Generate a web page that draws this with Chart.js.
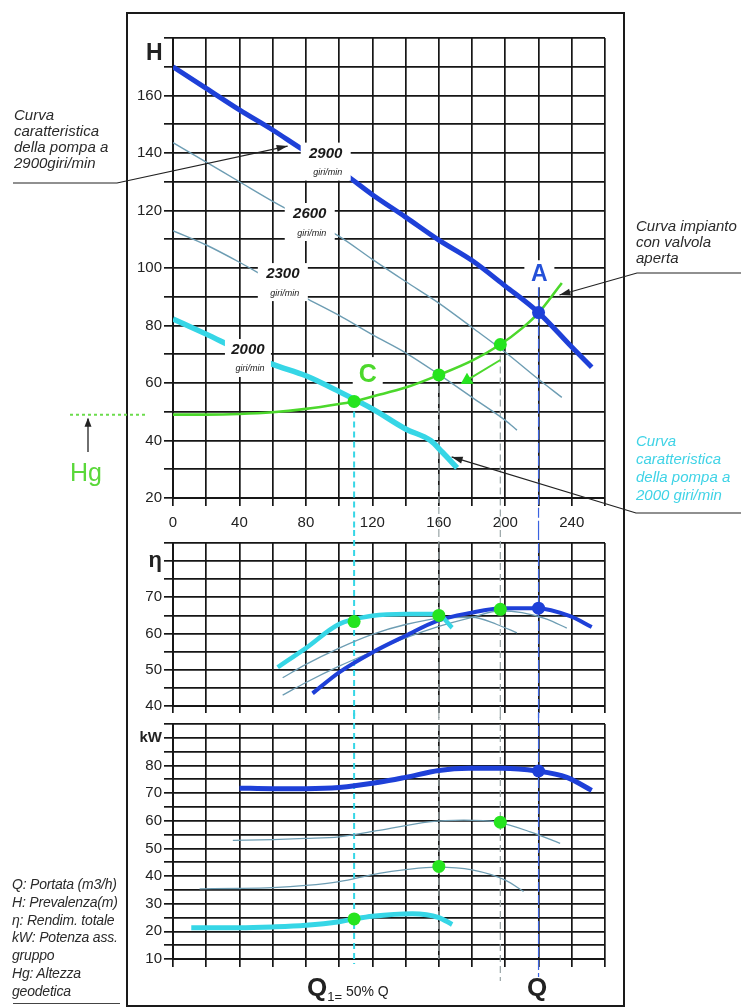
<!DOCTYPE html>
<html lang="it">
<head>
<meta charset="utf-8">
<title>Curve caratteristiche pompa</title>
<script src="https://cdn.jsdelivr.net/npm/chart.js@4.4.1/dist/chart.umd.min.js"></script>
<style>
  html, body { margin: 0; padding: 0; background: #fff; }
  body { width: 741px; height: 1007px; position: relative; overflow: hidden;
         font-family: "Liberation Sans", Arial, sans-serif; color: #222; }
  canvas { position: absolute; left: 0; }
  #frame { position: absolute; left: 126px; top: 12px; width: 495px; height: 991px;
           border: 2px solid #1a1a1a; }
  .note { position: absolute; font-style: italic; font-size: 15px; line-height: 16px;
          color: #2a2a2a; letter-spacing: 0px; white-space: nowrap; }
  .cyan { color: #3fd3e6; line-height: 18px; }
  .legend { font-size: 14px; letter-spacing: -0.2px; line-height: 17.8px; }
  #hlabel { position: absolute; left: 146px; top: 40px; font-weight: bold; font-size: 23px; line-height: 24px; }
  #hg { position: absolute; left: 70px; top: 458px; font-size: 25px; line-height: 28px; color: #5ad83a; }
  .qlab { position: absolute; top: 975px; line-height: 25px; white-space: nowrap; }
  .qbig { font-weight: bold; font-size: 26px; }
  .qsub { font-size: 13px; position: relative; top: 5px; }
  .qsmall { font-size: 14px; }
  #legline { position: absolute; left: 13px; top: 1003px; width: 107px; border-top: 1px solid #444; }
</style>
</head>
<body>
<div id="frame"></div>
<canvas id="chartH" width="741" height="530" style="top:0"></canvas>
<canvas id="chartEta" width="741" height="188" style="top:530px"></canvas>
<canvas id="chartKW" width="741" height="294" style="top:713px"></canvas>

<div id="hlabel">H</div>
<div class="note" style="left:14px;top:107px">Curva<br>caratteristica<br>della pompa a<br>2900giri/min</div>
<div class="note" style="left:636px;top:218px">Curva impianto<br>con valvola<br>aperta</div>
<div class="note cyan" style="left:636px;top:432px">Curva<br>caratteristica<br>della pompa a<br>2000 giri/min</div>
<div class="note legend" style="left:12px;top:876px">Q: Portata (m3/h)<br>H: Prevalenza(m)<br>η: Rendim. totale<br>kW: Potenza ass.<br>gruppo<br>Hg: Altezza<br>geodetica</div>
<div id="legline"></div>
<div id="hg">Hg</div>
<div class="qlab" style="left:307px"><span class="qbig">Q</span><span class="qsub">1=</span><span class="qsmall"> 50% Q</span></div>
<div class="qlab" style="left:527px"><span class="qbig">Q</span></div>

<script>
// ---- Portata Q (m3/h) e prevalenza H (m) per ciascun numero di giri ----
const qH2900 = [0, 20, 40, 60, 80, 100, 120, 140, 160, 180, 200, 220, 240, 252];
const hH2900 = [170, 162.5, 155, 148, 140.5, 134, 125.5, 117.7, 109.7, 102.6, 93.7, 84.5, 72.5, 65.5];
const qH2600 = [0, 20, 40, 60, 80, 100, 120, 140, 160, 180, 200, 220, 234];
const hH2600 = [143.6, 136.8, 130, 123.2, 117, 111, 103, 95.3, 87.8, 79.3, 70.7, 61.3, 55];
const qH2300 = [0, 20, 40, 60, 80, 100, 120, 140, 160, 180, 200, 207];
const hH2300 = [113, 108, 102, 95.5, 89.5, 83.5, 76.8, 70.5, 63, 55, 47, 43.6];
const qH2000 = [0, 20, 40, 60, 80, 100, 120, 140, 155, 162, 171];
const hH2000 = [82.3, 77, 71.5, 66.5, 62.5, 57, 51, 44, 40, 36, 30.5];

// ---- Curva impianto (valvola aperta) ----
const qSys = [0, 20, 40, 60, 80, 100, 109, 120, 140, 160, 180, 197, 210, 220, 234];
const hSys = [49, 49, 49.2, 49.8, 51, 52.7, 53.6, 55.3, 58.4, 62.8, 67.8, 73.4, 79, 84.4, 94.8];
const qSysShift = [197, 177];
const hSysShift = [68, 61];

// ---- Rendimento totale (%) ----
const qE2900 = [84, 100, 120, 140, 159, 179, 198, 219, 239, 252];
const eE2900 = [43.5, 49.3, 54.8, 59.4, 63.5, 65.7, 67, 67, 64.8, 61.8];
const qE2600 = [66, 80, 100, 120, 140, 160, 180, 197, 210, 225, 237];
const eE2600 = [43, 46.5, 51, 55, 58.8, 62, 64.5, 66.3, 65.8, 64, 61.5];
const qE2300 = [66, 80, 100, 120, 140, 160, 180, 195, 207];
const eE2300 = [47.8, 51.5, 56, 59.8, 62.5, 64.2, 64.5, 62.5, 60.2];
const qE2000 = [63, 80, 100, 120, 140, 159, 168];
const eE2000 = [50.7, 56, 62.6, 64.9, 65.4, 65.4, 61.6];

// ---- Potenza assorbita dal gruppo (kW) ----
const qK2900 = [40, 60, 80, 100, 124, 140, 160, 178, 198, 219, 237, 252];
const kK2900 = [71.8, 71.6, 71.6, 72, 73.9, 75.7, 78.2, 79, 79, 78, 75.7, 71];
const qK2600 = [36, 60, 80, 100, 124, 154, 175, 195, 215, 233];
const kK2600 = [52.9, 53.2, 53.6, 54.2, 56.5, 59.6, 60.2, 59.5, 56, 51.8];
const qK2300 = [16, 40, 60, 80, 100, 124, 140, 159, 180, 200, 211];
const kK2300 = [35.4, 35.5, 35.8, 36.6, 38, 41, 42.3, 43.2, 42.2, 38.5, 34.4];
const qK2000 = [11, 40, 60, 80, 100, 109, 120, 144, 160, 168];
const kK2000 = [21.3, 21.3, 21.6, 22.2, 23.5, 24.5, 25.5, 26.4, 25, 22.5];

// ---- Punti di funzionamento (C, 2300, 2600, A) ----
const opQ = [109, 160, 197, 220];
const opH = [53.6, 62.8, 73.4, 84.5];
const opEta = [63.3, 65, 66.7, 67];
const opKW = [24.5, 43.5, 59.5, 78];

// ---- Etichette degli assi ----
const qTickLabels = [0, 40, 80, 120, 160, 200, 240];
const hTickLabels = [20, 40, 60, 80, 100, 120, 140, 160];
const etaTickLabels = [40, 50, 60, 70];
const kwTickLabels = [10, 20, 30, 40, 50, 60, 70, 80];

// ---- Colori ----
const BLUE = '#1e40d8';
const CYAN = '#36d6e6';
const GREEN = '#4cd82c';
const GREEN_DOT = '#26e41f';
const THIN = '#6d9db3';
const GRID = '#161616';
const FONT = '"Liberation Sans", Arial, sans-serif';

const pts = (qs, vs) => qs.map((q, i) => ({ x: q, y: vs[i] }));

function curve(qs, vs, color, width) {
  return { data: pts(qs, vs), borderColor: color, borderWidth: width, pointRadius: 0,
           cubicInterpolationMode: 'monotone', fill: false, borderCapStyle: 'butt' };
}
function opDots(vs, radius) {
  return { data: pts(opQ, vs), showLine: false, pointRadius: radius, pointHoverRadius: radius,
           pointBorderWidth: 0,
           pointBackgroundColor: opQ.map((_, i) => i === opQ.length - 1 ? BLUE : GREEN_DOT) };
}

// linee verticali di riferimento alle portate dei punti di funzionamento
const guideStyle = [
  { color: CYAN, width: 2, dash: [6, 4], ext: 5 },
  { color: '#98a4a6', width: 1.2, dash: [7, 4], ext: 0 },
  { color: '#98a4a6', width: 1.2, dash: [7, 4], ext: 22 },
  { color: '#3a62e0', width: 1.2, dash: [10, 3], ext: 18 }
];
const guidePlugin = {
  id: 'guides',
  beforeDatasetsDraw(chart, args, opts) {
    const { ctx, scales: { x, y }, chartArea } = chart;
    ctx.save();
    opQ.forEach((q, i) => {
      const st = guideStyle[i];
      const px = x.getPixelForValue(q);
      const y0 = opts.from ? y.getPixelForValue(opts.from[i]) : 0;
      const y1 = opts.last ? chartArea.bottom + st.ext : chart.height;
      ctx.strokeStyle = st.color; ctx.lineWidth = st.width; ctx.setLineDash(st.dash);
      ctx.beginPath(); ctx.moveTo(px, y0); ctx.lineTo(px, y1); ctx.stroke();
    });
    ctx.restore();
  }
};

// etichette su fondo bianco (giri/min, A, C)
const tagPlugin = {
  id: 'tags',
  afterDatasetsDraw(chart, args, opts) {
    const { ctx, scales: { x, y } } = chart;
    (opts.items || []).forEach(t => {
      const cx = x.getPixelForValue(t.q), cy = y.getPixelForValue(t.v);
      ctx.save();
      ctx.fillStyle = '#fff';
      ctx.fillRect(cx - t.w / 2, cy - t.h / 2, t.w, t.h);
      ctx.fillStyle = t.color; ctx.textAlign = 'center'; ctx.textBaseline = 'middle';
      ctx.font = t.font; ctx.fillText(t.text, cx, cy + (t.dy || 0));
      if (t.sub) { ctx.font = t.subFont; ctx.fillText(t.sub, cx + 2, cy + t.subDy); }
      ctx.restore();
    });
  }
};

// richiami con freccia e quota Hg
const leaderPlugin = {
  id: 'leaders',
  afterDraw(chart, args, opts) {
    const { ctx, scales: { x, y } } = chart;
    const arrowHead = (tx, ty, ang, len, half, color) => {
      ctx.beginPath(); ctx.moveTo(tx, ty);
      ctx.lineTo(tx - len * Math.cos(ang) + half * Math.sin(ang), ty - len * Math.sin(ang) - half * Math.cos(ang));
      ctx.lineTo(tx - len * Math.cos(ang) - half * Math.sin(ang), ty - len * Math.sin(ang) + half * Math.cos(ang));
      ctx.closePath(); ctx.fillStyle = color; ctx.fill();
    };
    ctx.save();
    (opts.lines || []).forEach(l => {
      const tx = x.getPixelForValue(l.tip[0]), ty = y.getPixelForValue(l.tip[1]);
      ctx.strokeStyle = '#222'; ctx.lineWidth = 1.2;
      ctx.beginPath(); ctx.moveTo(l.path[0][0], l.path[0][1]);
      l.path.slice(1).forEach(p => ctx.lineTo(p[0], p[1]));
      ctx.lineTo(tx, ty); ctx.stroke();
      const last = l.path[l.path.length - 1];
      arrowHead(tx, ty, Math.atan2(ty - last[1], tx - last[0]), 11, 3.5, '#222');
    });
    // livello geodetico
    const yHg = y.getPixelForValue(hSys[0]);
    ctx.strokeStyle = '#6bdc4c'; ctx.lineWidth = 2; ctx.setLineDash([3, 3]);
    ctx.beginPath(); ctx.moveTo(70, yHg); ctx.lineTo(147, yHg); ctx.stroke();
    ctx.setLineDash([]);
    ctx.strokeStyle = '#222'; ctx.lineWidth = 1.3;
    ctx.beginPath(); ctx.moveTo(88, 452); ctx.lineTo(88, yHg + 4); ctx.stroke();
    arrowHead(88, yHg + 3, -Math.PI / 2, 9, 3.5, '#222');
    ctx.restore();
  }
};

function axes(yMin, yMax, yStep, yLabel, titleAt, titleText, titleFont, xHeight, xTickLen, showQLabels, xPad) {
  return {
    x: {
      type: 'linear', min: 0, max: 260,
      grid: { color: GRID, lineWidth: 1.7, tickLength: xTickLen, drawTicks: true },
      border: { color: GRID, width: 2 },
      ticks: { stepSize: 20, autoSkip: false, maxRotation: 0, padding: xPad, color: '#222',
               font: { family: FONT, size: 15 },
               callback: v => (showQLabels && qTickLabels.includes(v)) ? String(v) : '' },
      afterFit: s => { s.height = xHeight; }
    },
    y: {
      type: 'linear', min: yMin, max: yMax,
      grid: { color: GRID, lineWidth: 1.7, tickLength: 9, drawTicks: true },
      border: { color: GRID, width: 2 },
      ticks: { stepSize: yStep, autoSkip: false, padding: 2, color: '#222',
               font: ctx => (ctx.tick && ctx.tick.value === titleAt) ? titleFont : { family: FONT, size: 15 },
               callback: v => v === titleAt ? titleText : (yLabel.includes(v) ? String(v) : '') },
      afterFit: s => { s.width = 173; }
    }
  };
}

function baseOptions(scales, padTop, plugins) {
  return {
    responsive: false, animation: false, devicePixelRatio: 1,
    layout: { padding: { left: 0, right: 136, top: padTop, bottom: 0 } },
    scales,
    plugins: Object.assign({ legend: { display: false }, tooltip: { enabled: false } }, plugins)
  };
}

// ---------- Pannello H ----------
new Chart(document.getElementById('chartH'), {
  type: 'line',
  data: { datasets: [
    opDots(opH, 6.5),
    Object.assign(curve(qSysShift, hSysShift, GREEN, 2), {
      pointRadius: [0, 7.5], pointStyle: 'triangle', pointRotation: 239,
      pointBackgroundColor: GREEN_DOT, pointBorderWidth: 0 }),
    curve(qSys, hSys, GREEN, 2.6),
    curve(qH2900, hH2900, BLUE, 5),
    curve(qH2000, hH2000, CYAN, 5.5),
    curve(qH2600, hH2600, THIN, 1.4),
    curve(qH2300, hH2300, THIN, 1.4)
  ]},
  options: baseOptions(axes(20, 180, 10, hTickLabels, null, '', null, 32, 8, true, 8), 38, {
    guides: { from: [opH[0], opH[1], opH[2], 98] },
    tags: { items: [
      { q: 91.9, v: 137, w: 50, h: 38, text: '2900', font: `italic bold 15px ${FONT}`, dy: -8,
        sub: 'giri/min', subFont: `italic 9px ${FONT}`, subDy: 11, color: '#1a1a1a' },
      { q: 82.3, v: 116, w: 50, h: 38, text: '2600', font: `italic bold 15px ${FONT}`, dy: -8,
        sub: 'giri/min', subFont: `italic 9px ${FONT}`, subDy: 11, color: '#1a1a1a' },
      { q: 66.1, v: 95.1, w: 50, h: 38, text: '2300', font: `italic bold 15px ${FONT}`, dy: -8,
        sub: 'giri/min', subFont: `italic 9px ${FONT}`, subDy: 11, color: '#1a1a1a' },
      { q: 45.1, v: 68.7, w: 46, h: 38, text: '2000', font: `italic bold 15px ${FONT}`, dy: -8,
        sub: 'giri/min', subFont: `italic 9px ${FONT}`, subDy: 11, color: '#1a1a1a' },
      { q: 220.5, v: 98, w: 30, h: 27, text: 'A', font: `bold 23px ${FONT}`, dy: 1, color: '#2450d8' },
      { q: 117.2, v: 63.1, w: 30, h: 34, text: 'C', font: `bold 25px ${FONT}`, dy: 1, color: '#4cd82c' }
    ]},
    leaders: { lines: [
      { path: [[13, 183], [117, 183]], tip: [69, 142.4] },
      { path: [[741, 273], [637, 273]], tip: [232.6, 90.6] },
      { path: [[741, 513], [636, 513]], tip: [167.7, 34.3] }
    ]}
  }),
  plugins: [guidePlugin, tagPlugin, leaderPlugin]
});

// ---------- Pannello rendimento ----------
new Chart(document.getElementById('chartEta'), {
  type: 'line',
  data: { datasets: [
    opDots(opEta, 6.5),
    curve(qE2000, eE2000, CYAN, 4.5),
    curve(qE2900, eE2900, BLUE, 4),
    curve(qE2600, eE2600, THIN, 1.3),
    curve(qE2300, eE2300, THIN, 1.3)
  ]},
  options: baseOptions(axes(40, 85, 5, etaTickLabels, 80, 'η', { family: FONT, size: 22, weight: 'bold' }, 12, 7, false, 0),
                       13, { guides: {} }),
  plugins: [guidePlugin]
});

// ---------- Pannello potenza ----------
new Chart(document.getElementById('chartKW'), {
  type: 'line',
  data: { datasets: [
    opDots(opKW, 6.5),
    curve(qK2900, kK2900, BLUE, 5),
    curve(qK2000, kK2000, CYAN, 5),
    curve(qK2600, kK2600, THIN, 1.3),
    curve(qK2300, kK2300, THIN, 1.3)
  ]},
  options: baseOptions(axes(10, 95, 5, kwTickLabels, 90, 'kW', { family: FONT, size: 15, weight: 'bold' }, 48, 8, false, 0),
                       10, { guides: { last: true } }),
  plugins: [guidePlugin]
});
</script>
</body>
</html>
